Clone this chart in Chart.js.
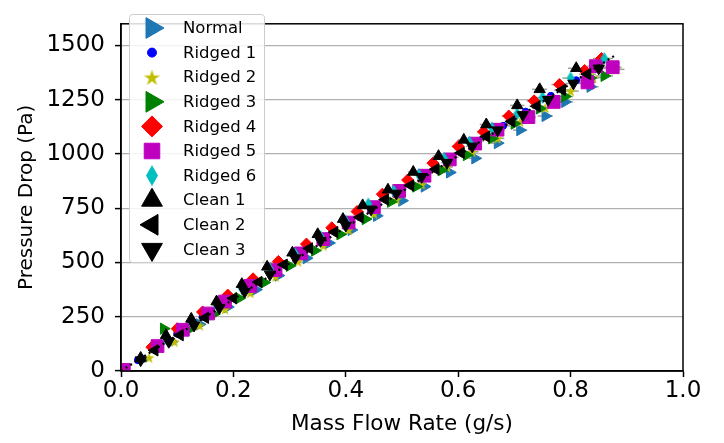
<!DOCTYPE html>
<html>
<head>
<meta charset="utf-8">
<script src="https://cdn.jsdelivr.net/npm/chart.js@4"></script>
<style>
	body { margin: 0; background: #fff; }
</style>
</head>
<body>
<canvas id="grafica" width="724" height="443"></canvas>
<script>
// datos
const nombres = ['Normal', 'Ridged 1', 'Ridged 2', 'Ridged 3', 'Ridged 4', 'Ridged 5', 'Ridged 6', 'Clean 1', 'Clean 2', 'Clean 3'];

const normalX = [0.04, 0.09, 0.14, 0.19, 0.24, 0.28, 0.33, 0.37, 0.41, 0.455, 0.50, 0.54, 0.585, 0.63, 0.67, 0.71, 0.755, 0.79, 0.835];
const normalY = [55, 135, 215, 295, 375, 440, 520, 590, 650, 715, 785, 850, 915, 980, 1050, 1110, 1175, 1240, 1310];

const ridged1X = [0.03, 0.06, 0.10, 0.145, 0.19, 0.235, 0.28, 0.32, 0.365, 0.41, 0.455, 0.50, 0.545, 0.59, 0.635, 0.68, 0.72, 0.765, 0.81, 0.85];
const ridged1Y = [50, 100, 172, 250, 322, 400, 478, 545, 620, 688, 760, 838, 912, 985, 1060, 1130, 1195, 1268, 1340, 1400];

const ridged2X = [0.05, 0.095, 0.14, 0.185, 0.23, 0.275, 0.315, 0.36, 0.405, 0.45, 0.49, 0.535, 0.58, 0.625, 0.67, 0.71, 0.755, 0.80, 0.84, 0.88];
const ridged2Y = [62, 135, 210, 285, 360, 435, 505, 578, 650, 725, 790, 860, 940, 1010, 1072, 1148, 1212, 1290, 1352, 1390];

const ridged3X = [0.076, 0.12, 0.165, 0.21, 0.255, 0.30, 0.345, 0.39, 0.435, 0.48, 0.525, 0.57, 0.615, 0.66, 0.70, 0.745, 0.79, 0.835, 0.86];
const ridged3Y = [195, 190, 262, 335, 408, 485, 555, 630, 700, 780, 850, 925, 995, 1072, 1140, 1210, 1265, 1350, 1360];

const ridged4X = [0.055, 0.10, 0.145, 0.19, 0.235, 0.28, 0.33, 0.375, 0.42, 0.465, 0.51, 0.555, 0.60, 0.645, 0.69, 0.735, 0.78, 0.825, 0.855];
const ridged4Y = [110, 195, 272, 350, 425, 505, 585, 660, 735, 815, 880, 958, 1035, 1102, 1175, 1245, 1320, 1385, 1440];

const ridged5X = [0.005, 0.065, 0.11, 0.155, 0.185, 0.23, 0.275, 0.32, 0.36, 0.405, 0.45, 0.495, 0.54, 0.585, 0.63, 0.67, 0.725, 0.77, 0.83, 0.845, 0.875];
const ridged5Y = [5, 115, 190, 265, 320, 392, 465, 542, 608, 684, 755, 830, 900, 975, 1048, 1112, 1170, 1240, 1330, 1405, 1400];

const ridged6X = [0.08, 0.125, 0.17, 0.215, 0.265, 0.31, 0.355, 0.40, 0.44, 0.485, 0.53, 0.575, 0.62, 0.66, 0.705, 0.75, 0.80, 0.86];
const ridged6Y = [150, 228, 305, 380, 470, 540, 620, 690, 770, 830, 905, 980, 1055, 1120, 1185, 1260, 1350, 1440];

const clean1X = [0.035, 0.08, 0.125, 0.17, 0.215, 0.26, 0.305, 0.35, 0.395, 0.43, 0.475, 0.52, 0.565, 0.61, 0.65, 0.705, 0.745, 0.81];
const clean1Y = [60, 165, 240, 320, 400, 480, 545, 630, 700, 763, 835, 917, 990, 1065, 1136, 1224, 1298, 1395];

const clean2X = [0.06, 0.105, 0.15, 0.20, 0.245, 0.29, 0.335, 0.38, 0.425, 0.47, 0.515, 0.56, 0.605, 0.65, 0.695, 0.74, 0.785, 0.83];
const clean2Y = [95, 165, 245, 335, 410, 490, 565, 640, 708, 790, 855, 930, 1005, 1080, 1150, 1220, 1295, 1368];

const clean3X = [0.035, 0.085, 0.13, 0.175, 0.22, 0.265, 0.31, 0.355, 0.40, 0.445, 0.49, 0.535, 0.58, 0.625, 0.67, 0.715, 0.76, 0.805, 0.85];
const clean3Y = [50, 135, 210, 290, 365, 445, 520, 600, 670, 745, 818, 895, 960, 1035, 1110, 1180, 1250, 1325, 1395];

// linea de ajuste punteada
const ajusteX = [0, 0.88];
const ajusteY = [0, 1456];

const xTicks = [0, 0.2, 0.4, 0.6, 0.8, 1.0];
const yTicks = [0, 250, 500, 750, 1000, 1250, 1500];

const fuente = "'DejaVu Sans', sans-serif";
const errRel = 0.018;

function estrella(size, color) {
	let c = document.createElement('canvas');
	c.width = size + 2; c.height = size + 2;
	let ctx = c.getContext('2d');
	let cx = c.width / 2, cy = c.height / 2 + size * 0.05;
	let R = size / 2, r = R * 0.38;
	ctx.beginPath();
	for (let i = 0; i < 10; i++) {
		let rad = i % 2 == 0 ? R : r;
		let a = -Math.PI / 2 + i * Math.PI / 5;
		let px = cx + Math.cos(a) * rad, py = cy + Math.sin(a) * rad;
		if (i == 0) ctx.moveTo(px, py); else ctx.lineTo(px, py);
	}
	ctx.closePath();
	ctx.fillStyle = color;
	ctx.fill();
	return c;
}

function diamanteFino(w, h, color) {
	let c = document.createElement('canvas');
	c.width = w + 2; c.height = h + 2;
	let ctx = c.getContext('2d');
	let cx = c.width / 2, cy = c.height / 2;
	ctx.beginPath();
	ctx.moveTo(cx, cy - h / 2);
	ctx.lineTo(cx + w / 2, cy);
	ctx.lineTo(cx, cy + h / 2);
	ctx.lineTo(cx - w / 2, cy);
	ctx.closePath();
	ctx.fillStyle = color;
	ctx.fill();
	return c;
}

const series = [
	{ x: normalX, y: normalY, color: '#1f77b4', style: 'triangle', rot: 90, r: 6.5, lr: 12 },
	{ x: ridged1X, y: ridged1Y, color: '#0000ff', style: 'circle', rot: 0, r: 3.5, lr: 4.5 },
	{ x: ridged2X, y: ridged2Y, color: '#bfbf00', style: estrella(12, '#bfbf00'), rot: 0, r: 6, lr: estrella(17, '#bfbf00') },
	{ x: ridged3X, y: ridged3Y, color: '#008000', style: 'triangle', rot: 90, r: 6.5, lr: 12 },
	{ x: ridged4X, y: ridged4Y, color: '#ff0000', style: 'rectRot', rot: 0, r: 6, lr: 10.5 },
	{ x: ridged5X, y: ridged5Y, color: '#bf00bf', style: 'rect', rot: 0, r: 9, lr: 11 },
	{ x: ridged6X, y: ridged6Y, color: '#00bfbf', style: diamanteFino(8, 13, '#00bfbf'), rot: 0, r: 6, lr: diamanteFino(12, 21, '#00bfbf') },
	{ x: clean1X, y: clean1Y, color: '#000000', style: 'triangle', rot: 0, r: 6.5, lr: 12 },
	{ x: clean2X, y: clean2Y, color: '#000000', style: 'triangle', rot: 270, r: 6.5, lr: 12 },
	{ x: clean3X, y: clean3Y, color: '#000000', style: 'triangle', rot: 180, r: 6.5, lr: 12 }
];

const datasets = series.map((s, i) => ({
	label: nombres[i],
	data: s.x.map((v, j) => ({ x: v, y: s.y[j] })),
	backgroundColor: s.color,
	borderColor: s.color,
	borderWidth: 1,
	pointStyle: s.style,
	rotation: s.rot,
	pointRadius: s.r,
	showLine: false,
	order: 10 - i
}));

datasets.push({
	label: 'ajuste',
	data: ajusteX.map((v, j) => ({ x: v, y: ajusteY[j] })),
	showLine: true,
	borderColor: '#000',
	borderWidth: 2.2,
	borderDash: [2, 3.5],
	pointRadius: 0,
	order: 0
});

// barras de error horizontales, marco y leyenda
const extras = {
	id: 'extras',
	beforeDatasetsDraw(chart) {
		const ctx = chart.ctx, xs = chart.scales.x, ys = chart.scales.y;
		ctx.save();
		ctx.strokeStyle = '#a0a0a0';
		ctx.lineWidth = 1.5;
		series.forEach(s => {
			s.x.forEach((v, j) => {
				let py = ys.getPixelForValue(s.y[j]);
				ctx.beginPath();
				ctx.moveTo(xs.getPixelForValue(v * (1 - errRel)), py);
				ctx.lineTo(xs.getPixelForValue(v * (1 + errRel)), py);
				ctx.stroke();
			});
		});
		ctx.restore();
	},
	afterDraw(chart) {
		const ctx = chart.ctx, a = chart.chartArea;
		ctx.save();
		ctx.strokeStyle = '#000';
		ctx.lineWidth = 1.5;
		ctx.strokeRect(a.left, a.top, a.right - a.left, a.bottom - a.top);

		const lx = 129, ly = 14, lw = 135, lh = 248;
		ctx.fillStyle = 'rgba(255,255,255,0.85)';
		ctx.strokeStyle = '#cccccc';
		ctx.lineWidth = 1;
		ctx.beginPath();
		ctx.roundRect(lx + 0.5, ly + 0.5, lw, lh, 3);
		ctx.fill();
		ctx.stroke();
		ctx.font = '16.5px ' + fuente;
		ctx.textBaseline = 'middle';
		series.forEach((s, i) => {
			let cy = 28 + i * 24.6;
			ctx.fillStyle = s.color;
			ctx.strokeStyle = s.color;
			ctx.lineWidth = 1;
			if (typeof s.lr === 'number') {
				Chart.helpers.drawPoint(ctx, { pointStyle: s.style, rotation: s.rot, radius: s.lr, borderWidth: 1 }, 152, cy);
			} else {
				ctx.drawImage(s.lr, 152 - s.lr.width / 2, cy - s.lr.height / 2);
			}
			ctx.fillStyle = '#000';
			ctx.fillText(nombres[i], 183, cy + 1);
		});
		ctx.restore();
	}
};

new Chart(document.getElementById('grafica'), {
	type: 'scatter',
	data: { datasets: datasets },
	plugins: [extras],
	options: {
		responsive: false,
		animation: false,
		devicePixelRatio: 1,
		layout: { padding: { left: 0, top: 5, right: 41, bottom: 0 } },
		plugins: {
			legend: { display: false },
			tooltip: { enabled: false }
		},
		scales: {
			x: {
				type: 'linear',
				min: 0,
				max: 1,
				afterBuildTicks: s => { s.ticks = xTicks.map(v => ({ value: v })); },
				afterFit: s => { s.height = 72; },
				grid: { drawOnChartArea: false, tickColor: '#000', tickLength: 6, tickWidth: 1.5 },
				border: { color: '#000', width: 1.5 },
				ticks: {
					color: '#000',
					font: { family: fuente, size: 23 },
					padding: 0,
					maxRotation: 0,
					callback: v => v.toFixed(1)
				},
				title: {
					display: true,
					text: 'Mass Flow Rate (g/s)',
					color: '#000',
					font: { family: fuente, size: 21.5 },
					padding: { top: 0, bottom: 6 }
				}
			},
			y: {
				type: 'linear',
				min: 0,
				max: 1600,
				afterBuildTicks: s => { s.ticks = yTicks.map(v => ({ value: v })); },
				afterFit: s => { s.width = 121; },
				grid: { color: '#b0b0b0', lineWidth: 1.2, tickColor: '#000', tickLength: 6, tickWidth: 1.5 },
				border: { color: '#000', width: 1.5 },
				ticks: {
					color: '#000',
					font: { family: fuente, size: 23 },
					padding: 10,
					callback: v => String(v)
				},
				title: {
					display: true,
					text: 'Pressure Drop (Pa)',
					color: '#000',
					font: { family: fuente, size: 20 },
					padding: { top: 15, bottom: 0 }
				}
			}
		}
	}
});
</script>
</body>
</html>
